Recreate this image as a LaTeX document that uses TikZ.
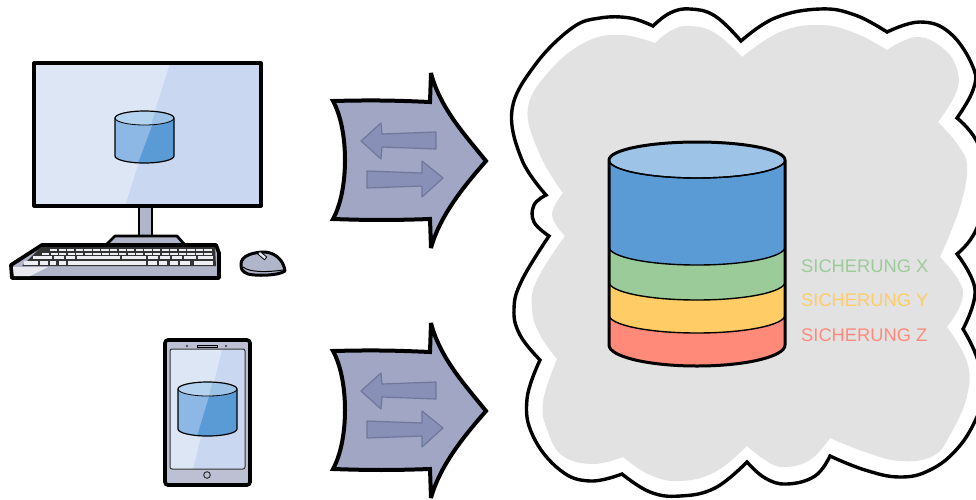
\documentclass[tikz,border=0pt]{standalone}
\usepackage{fontspec}
\setmainfont{Liberation Sans}
\definecolor{cloudgray}{HTML}{E2E2E2}
\definecolor{dbblue}{HTML}{5B9BD5}
\definecolor{dbtop}{HTML}{9DC3E6}
\definecolor{dbbluelt}{HTML}{8DB8E5}
\definecolor{dbtoplt}{HTML}{B4D3EE}
\definecolor{dbgreen}{HTML}{9CCB9A}
\definecolor{dbyellow}{HTML}{FFCC66}
\definecolor{dbred}{HTML}{FF8A7A}
\definecolor{screenA}{HTML}{C9D8F0}
\definecolor{screenB}{HTML}{DCE6F5}
\definecolor{devgray}{HTML}{B0B5CA}
\definecolor{arrowfill}{HTML}{A0A6C4}
\definecolor{arrowin}{HTML}{8890B8}
\definecolor{arrowline}{HTML}{6F7899}
\tikzset{
  outl/.style={draw=black,line width=3.2pt,line join=round},
  thinl/.style={draw=black,line width=1.2pt},
  seclabel/.style={font=\fontsize{18.3}{20}\selectfont,anchor=west,inner sep=0pt},
  smallarrow/.style={fill=arrowin,draw=arrowline,line width=1.2pt,line join=round},
  pics/bigarrow/.style={code={
    \path[fill=arrowfill,draw=black,line width=4pt,line join=miter,miter limit=6]
      (333,101) to[bend left=2] (430,102) -- (431,73)
      .. controls (440,108) and (465,135) .. (486,161)
      .. controls (465,185) and (440,215) .. (431,248)
      -- (430,219) to[bend left=2] (333,219)
      .. controls (349,190) and (349,130) .. cycle;
    \path[smallarrow] (361,141) -- (381,123) -- (382,134) -- (436,132) -- (436,149) -- (382,147) -- (381,159) -- cycle;
    \path[smallarrow] (367,171) -- (422,173) -- (422,161) -- (443,178) -- (422,197) -- (422,186) -- (367,188) -- cycle;
  }},
}
\begin{document}
\begin{tikzpicture}[x=1pt,y=-1pt]
\useasboundingbox (0,0) rectangle (976,499);
\clip (0,0) rectangle (976,499);
\fill[white] (0,0) rectangle (976,499);

% cloud outline
\path[fill=white,draw=black,line width=3.4pt,line join=miter,miter limit=8]
  (546,195) -- plot[smooth,tension=0.65] coordinates {(546,195) (522,160) (512,110) (535,65) (572,28) (600,18) (630,18) (653,26)}
  -- plot[smooth,tension=0.7] coordinates {(653,26) (670,13) (690,9) (715,16) (741,41)}
  -- plot[smooth,tension=0.7] coordinates {(741,41) (775,18) (820,9) (855,15) (887,32)}
  -- plot[smooth,tension=0.7] coordinates {(887,32) (920,22) (950,33) (973,67) (973,90) (957,118)}
  -- plot[smooth,tension=0.7] coordinates {(957,118) (976,140) (990,180) (976,230) (957,254)}
  -- plot[smooth,tension=0.7] coordinates {(957,254) (975,290) (963,329)}
  -- plot[smooth,tension=0.7] coordinates {(963,329) (976,355) (985,390) (976,419) (957,449) (930,470) (900,477) (865,470) (830,456)}
  -- plot[smooth,tension=0.7] coordinates {(830,456) (815,476) (787,484) (765,478) (747,462)}
  -- plot[smooth,tension=0.7] coordinates {(747,462) (715,488) (680,496) (650,492) (622,474)}
  -- plot[smooth,tension=0.7] coordinates {(622,474) (590,481) (560,470) (533,436) (527,399) (540,360)}
  -- plot[smooth,tension=0.7] coordinates {(540,360) (520,335) (514,309) (522,280) (549,236)}
  -- plot[smooth,tension=0.7] coordinates {(549,236) (534,222) (534,205) (546,195)} -- cycle;
% cloud inner
\path[fill=cloudgray]
  (563,193) -- plot[smooth,tension=0.65] coordinates {(563,193) (540,155) (528,107) (555,65) (590,40) (623,35) (655,43)}
  -- plot[smooth,tension=0.7] coordinates {(655,43) (672,30) (690,26) (715,33) (742,57)}
  -- plot[smooth,tension=0.7] coordinates {(742,57) (780,32) (820,25) (855,33) (887,50)}
  -- plot[smooth,tension=0.7] coordinates {(887,50) (917,37) (945,50) (958,73) (955,95) (938,122)}
  -- plot[smooth,tension=0.7] coordinates {(938,122) (958,145) (967,167) (960,207) (940,257)}
  -- plot[smooth,tension=0.7] coordinates {(940,257) (963,292) (947,327)}
  -- plot[smooth,tension=0.7] coordinates {(947,327) (967,362) (967,396) (950,435) (933,456) (900,461) (865,452) (830,438)}
  -- plot[smooth,tension=0.7] coordinates {(830,438) (810,460) (783,467) (765,460) (747,446)}
  -- plot[smooth,tension=0.7] coordinates {(747,446) (715,472) (680,481) (650,475) (623,457)}
  -- plot[smooth,tension=0.7] coordinates {(623,457) (593,464) (563,456) (548,432) (543,402) (557,359)}
  -- plot[smooth,tension=0.7] coordinates {(557,359) (540,335) (532,309) (537,280) (565,236)}
  -- plot[smooth,tension=0.7] coordinates {(565,236) (552,215) (563,193)} -- cycle;

% big database
\path[fill=dbred] (609,160) -- (609,345) arc[start angle=180,end angle=360,x radius=88pt,y radius=21pt] -- (785,160) -- cycle;
\path[fill=dbyellow,draw=black,line width=1.4pt] (609,315) arc[start angle=180,end angle=360,x radius=88pt,y radius=18pt] -- (785,160) -- (609,160) -- cycle;
\path[fill=dbgreen,draw=black,line width=1.4pt] (609,282) arc[start angle=180,end angle=360,x radius=88pt,y radius=18pt] -- (785,160) -- (609,160) -- cycle;
\path[fill=dbblue,draw=black,line width=1.4pt] (609,247) arc[start angle=180,end angle=360,x radius=88pt,y radius=18pt] -- (785,160) -- (609,160) -- cycle;
\path[fill=dbtop,draw=black,line width=1.4pt] (697,160) ellipse[x radius=88pt,y radius=18pt];
\path[draw=black,line width=3pt,line join=round] (609,160) arc[start angle=180,end angle=0,x radius=88pt,y radius=18pt] -- (785,345) arc[start angle=360,end angle=180,x radius=88pt,y radius=21pt] -- cycle;
\path[draw=black,line width=1.4pt] (609,160) arc[start angle=180,end angle=360,x radius=88pt,y radius=18pt];

% labels
\node[seclabel,text=dbgreen]  (secx) at (801,266) {SICHERUNG X};
\node[seclabel,text=dbyellow] (secy) at (801,300) {SICHERUNG Y};
\node[seclabel,text=dbred]    (secz) at (801,335) {SICHERUNG Z};

% big arrows
\pic at (0,0) {bigarrow};
\pic at (0,250) {bigarrow};

% monitor stand
\path[fill=devgray,draw=black,line width=2.8pt] (139,206) rectangle (152,238);
\path[fill=devgray,draw=black,line width=2.8pt,line join=round] (107,244) -- (115,236) -- (177,236) -- (184,244);
% monitor
\path[fill=screenA] (34,63) rectangle (261,206);
\path[fill=screenB] (34,63) -- (170,63) -- (125,206) -- (34,206) -- cycle;
\path[outl] (34,63) rectangle (261,206);
% small db monitor
\path[fill=dbblue] (115,118) -- (115,156) arc[start angle=180,end angle=360,x radius=29.5pt,y radius=7pt] -- (174,118) -- cycle;
\path[fill=dbbluelt] (115,118) -- (115,156) arc[start angle=180,end angle=270,x radius=29.5pt,y radius=7pt] -- (138,163) -- (157,112) -- (150,112) -- cycle;
\path[fill=dbtop] (144.5,118) ellipse[x radius=29.5pt,y radius=7pt];
\begin{scope}
\clip (100,105) -- (157,105) -- (151,125) -- (100,125) -- cycle;
\path[fill=dbtoplt] (144.5,118) ellipse[x radius=29.5pt,y radius=7pt];
\end{scope}
\path[thinl] (115,118) arc[start angle=180,end angle=0,x radius=29.5pt,y radius=7pt] -- (174,156) arc[start angle=360,end angle=180,x radius=29.5pt,y radius=7pt] -- cycle;
\path[draw=black,line width=.8pt] (115,118) arc[start angle=180,end angle=360,x radius=29.5pt,y radius=7pt];

% keyboard
\path[fill=devgray,draw=black,line width=3.8pt,line join=round] (42,245) -- (216,245) -- (219,253) -- (219,278) -- (12,278) -- (11,265) -- cycle;
\path[fill=white!70!devgray] (14,276) -- (13,267) -- (48,267) -- (30,276) -- cycle;
\path[fill=black!80] (41,247) -- (215,247) -- (216,266) -- (22,266) -- cycle;
\foreach \xs/\y/\n/\h in {50/248.5/19/2.6,42/252.5/20/2.6}{
  \foreach \i in {1,...,\n}{
    \pgfmathsetmacro{\kx}{\xs+(\i-1)*(213-\xs)/\n}
    \pgfmathsetmacro{\kw}{(213-\xs)/\n-1.3}
    \fill[white!78!devgray] (\kx,\y) rectangle ++(\kw,\h);
  }
}
\foreach \a/\b in {33/52,54/64,66/75,77/120,122/146,148/158,160/170,172/182,184/196,198/213}{
  \fill[white!78!devgray] (\a,256) rectangle (\b,258.5);
}
\foreach \a/\b in {24/38,40/48,50/56,59/66,68/146,148/157,159/167,170/178,180/190,194/213}{
  \fill[white!78!devgray] (\a,260.5) rectangle (\b,264.5);
}
% mouse
\path[fill=devgray,draw=black,line width=3pt,line join=round]
  (241,265) .. controls (240,255) and (255,252) .. (265,252)
  .. controls (277,253) and (284,262) .. (285,271)
  .. controls (278,276) and (255,276) .. (248,274)
  .. controls (243,272) and (241,270) .. (241,265) -- cycle;
\path[draw=black,line width=1pt] (243,267) .. controls (250,273) and (270,272) .. (283,270);
\path[fill=white!70!devgray,draw=black,line width=.8pt,rotate around={-40:(262,255)}] (258,253.5) rectangle (267,257);

% phone
\path[fill=devgray!85!white,draw=black,line width=3.6pt,rounded corners=3pt] (165,340) rectangle (250,485);
\path[fill=screenA] (170,349) rectangle (245,469);
\path[fill=screenB] (170,349) -- (222,349) -- (193,469) -- (170,469) -- cycle;
\path[draw=black!80,line width=1pt,rounded corners=2pt] (170,349) rectangle (245,469);
\path[fill=devgray,draw=black,line width=.9pt] (197,345) rectangle (217,347.5);
\fill[black!80] (187,346) circle[radius=1.2pt] (226,346) circle[radius=1.2pt];
\path[draw=black!80,line width=1pt] (207,475) circle[radius=3.3pt];
% small db phone
\path[fill=dbblue] (178,389) -- (178,429) arc[start angle=180,end angle=360,x radius=29.5pt,y radius=7pt] -- (237,389) -- cycle;
\path[fill=dbbluelt] (178,389) -- (178,429) arc[start angle=180,end angle=270,x radius=29.5pt,y radius=7pt] -- (197,436) -- (213,383) -- (205,383) -- cycle;
\path[fill=dbtop] (207.5,389) ellipse[x radius=29.5pt,y radius=7pt];
\begin{scope}
\clip (170,375) -- (214,375) -- (208,400) -- (170,400) -- cycle;
\path[fill=dbtoplt] (207.5,389) ellipse[x radius=29.5pt,y radius=7pt];
\end{scope}
\path[thinl] (178,389) arc[start angle=180,end angle=0,x radius=29.5pt,y radius=7pt] -- (237,429) arc[start angle=360,end angle=180,x radius=29.5pt,y radius=7pt] -- cycle;
\path[draw=black,line width=.8pt] (178,389) arc[start angle=180,end angle=360,x radius=29.5pt,y radius=7pt];
\end{tikzpicture}
\end{document}
